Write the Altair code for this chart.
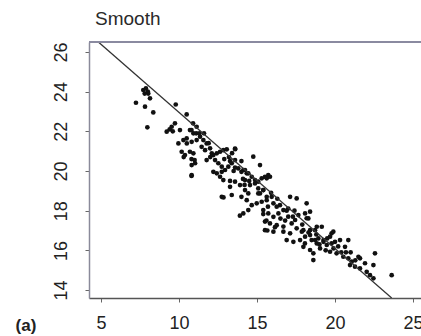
import altair as alt
import pandas as pd

# scatter points
xs = [7.71, 8.03, 7.88, 8.14, 7.24, 7.82, 8.35, 7.97, 9.79, 10.49, 9.21, 9.53, 9.74, 10.06, 10.7, 10.92,
      11.13, 10.49, 10.81, 11.13, 9.96, 10.17, 10.7, 10.38, 11.0, 10.81, 9.4, 9.6, 10.3, 10.8, 10.8, 8.0, 7.8,
      10.9, 10.8, 11.1, 10.28, 10.5, 11.35, 11.56, 11.77, 11.99, 11.67, 11.45, 12.1, 10.92, 11.03, 10.81, 11.77,
      12.42, 12.63, 12.84, 13.06, 13.59, 12.31, 12.52, 12.74, 12.95, 13.16, 13.38, 13.59, 12.2, 12.42, 12.63,
      12.84, 12.74, 13.8, 14.0, 14.23, 14.44, 14.66, 14.87, 15.08, 15.3, 15.51, 15.72, 14.76, 15.19, 13.27,
      13.59, 13.91, 14.23, 12.74, 13.38, 14.44, 15.08, 15.4, 15.62, 12.85, 13.9, 13.6,
      14.12, 14.34, 14.23, 14.55, 14.87, 15.08, 15.19, 15.4, 15.62, 15.83, 14.0, 14.34, 14.66, 14.98, 15.3,
      15.62, 15.94, 16.05, 16.26, 16.47, 14.12, 14.44, 15.4, 15.72, 16.05, 16.37, 16.69, 17.0, 17.12, 17.54,
      18.18, 18.4, 18.18, 17.65, 15.51, 15.83, 16.26, 16.69, 17.22, 17.44, 15.51, 16.05, 16.69, 17.12, 17.54,
      17.97, 18.4, 18.83, 19.15, 16.9, 17.33, 17.76, 18.07, 18.5, 18.83, 19.26, 19.47, 19.68,
      18.08, 18.29, 18.72, 19.78, 19.89, 17.87, 18.08, 18.4, 18.72, 18.93, 19.26, 19.78, 20.0, 20.32, 20.85,
      20.64, 17.97, 18.4, 18.61, 18.61, 19.04, 19.68, 20.1, 20.53, 20.85, 21.07, 21.28, 21.5, 20.96, 21.6,
      22.03, 22.24, 22.46, 22.56, 22.46, 23.63, 21.6, 21.92,
      13.27, 13.5, 13.27, 13.59, 14.0, 15.4, 15.6, 15.66, 16.15,
      16.5, 16.8, 17.0, 16.3, 17.4, 18.8, 19.5, 20.2, 20.4, 21.3, 19.9, 12.0, 12.2, 11.9, 11.3, 11.6, 12.9,
      13.2, 13.4, 14.1, 14.5, 14.2, 15.9, 15.7, 16.9, 17.3, 17.9, 18.3, 19.0, 19.4, 20.7, 21.0]
ys = [24.08, 23.9, 24.16, 23.66, 23.44, 23.24, 22.95, 22.2, 23.35, 22.85, 21.98, 22.23, 22.4, 22.06, 22.06, 21.9,
      22.23, 21.64, 21.47, 21.56, 21.39, 20.97, 20.97, 20.8, 20.55, 20.3, 22.1, 22.0, 20.7, 20.6, 19.75, 24.0, 23.9,
      22.4, 22.06, 21.9, 21.56, 21.39, 21.73, 21.56, 21.39, 21.14, 21.05, 21.22, 20.89, 20.89, 20.39, 19.79, 20.55,
      20.89, 20.97, 21.05, 21.09, 21.13, 20.55, 20.39, 20.22, 20.05, 20.22, 20.39, 20.55, 19.96, 19.88, 19.71,
      19.54, 19.96, 20.13, 19.96, 20.05, 19.88, 19.71, 19.54, 19.46, 19.63, 19.71, 19.79, 20.72, 20.3, 19.2,
      19.46, 19.29, 19.04, 18.7, 18.79, 18.87, 18.87, 19.04, 18.7, 18.67, 17.75, 21.1,
      20.05, 19.88, 19.54, 19.29, 19.37, 19.12, 18.87, 19.04, 19.63, 19.71, 18.7, 18.53, 18.28, 18.37, 18.45,
      18.53, 18.7, 18.37, 18.2, 18.28, 17.86, 18.03, 18.03, 17.86, 17.69, 17.86, 18.03, 18.11, 18.7, 18.62,
      18.37, 17.95, 17.62, 17.78, 17.45, 17.36, 17.27, 17.2, 17.36, 17.53, 17.02, 16.94, 16.94, 16.86, 17.11,
      17.02, 17.02, 17.19, 17.19, 16.52, 16.43, 16.52, 16.35, 16.52, 16.35, 16.52, 16.27, 16.69,
      17.86, 17.61, 17.02, 16.86, 16.94, 16.94, 16.69, 16.77, 16.52, 16.6, 16.43, 16.35, 16.43, 16.52, 16.52,
      16.18, 16.18, 16.02, 15.85, 15.51, 16.1, 15.93, 15.85, 15.68, 15.6, 15.43, 15.18, 15.68, 15.26, 15.09,
      14.92, 14.75, 14.59, 15.85, 15.26, 14.75, 15.6, 15.35,
      20.5, 20.0, 19.5, 20.17, 20.5, 17.83, 17.5, 17.0, 17.17,
      17.6, 17.5, 17.7, 18.6, 18.0, 16.8, 16.6, 16.2, 15.9, 15.5, 16.1, 20.7, 20.8, 21.4, 21.9, 21.9, 20.6,
      20.7, 20.9, 19.6, 19.5, 19.3, 18.9, 18.2, 18.0, 17.7, 17.3, 16.9, 16.3, 16.0, 15.9, 15.9]

# straight "smooth" line
line_x = [4.83, 23.63]
line_y = [26.5, 13.6]

x_ticks = [5, 10, 15, 20, 25]
y_ticks = [14, 16, 18, 20, 22, 24, 26]
x_domain = [4.23, 25.51]
y_domain = [13.6, 26.5]

pts = pd.DataFrame({"x": xs, "y": ys})
ln = pd.DataFrame({"x": line_x, "y": line_y})

W, H = 332, 256
FONT = "Liberation Sans"

xscale = alt.Scale(domain=x_domain, nice=False, zero=False)
yscale = alt.Scale(domain=y_domain, nice=False, zero=False)

xaxis = alt.Axis(values=x_ticks, title=None, grid=False, domainColor="#555555", domainWidth=1.5,
                 tickColor="#666666", tickSize=4, labelFontSize=18, labelFont=FONT, labelColor="#222222",
                 labelPadding=12, labelFlush=False)
yaxis = alt.Axis(values=y_ticks, title=None, grid=False, domainColor="#8a8a9a", domainWidth=1.5,
                 tickColor="#666666", tickSize=4, labelFontSize=18, labelFont=FONT, labelColor="#222222",
                 labelAngle=-90, labelAlign="center", labelBaseline="bottom", labelPadding=15,
                 labelFlush=False)

points = alt.Chart(pts).mark_circle(size=22, color="#111111", opacity=1).encode(
    x=alt.X("x:Q", scale=xscale, axis=xaxis),
    y=alt.Y("y:Q", scale=yscale, axis=yaxis),
)

line = alt.Chart(ln).mark_line(color="#333333", strokeWidth=1.3, clip=True).encode(
    x=alt.X("x:Q", scale=xscale),
    y=alt.Y("y:Q", scale=yscale),
)

top_rule = alt.Chart(pd.DataFrame({"a": [0]})).mark_rule(color="#8a8aa0", strokeWidth=2).encode(
    x=alt.value(0), x2=alt.value(W), y=alt.value(0)
)

title = alt.Chart(pd.DataFrame({"t": ["Smooth"]})).mark_text(
    align="left", baseline="alphabetic", fontSize=19, font=FONT, color="#2a2a2a"
).encode(x=alt.value(6), y=alt.value(-17), text="t:N")

tag = alt.Chart(pd.DataFrame({"t": ["(a)"]})).mark_text(
    align="center", baseline="middle", fontSize=17, font=FONT, fontWeight="bold", color="#222222"
).encode(x=alt.value(-63), y=alt.value(284), text="t:N")

chart = alt.layer(points, line, top_rule, title, tag).properties(
    width=W, height=H,
    autosize=alt.AutoSizeParams(type="none"),
    padding={"left": 89, "top": 42, "right": 0, "bottom": 38},
).configure_view(stroke=None).configure(background="white")

chart.save("out.html", embed_options={"renderer": "svg", "actions": False})
